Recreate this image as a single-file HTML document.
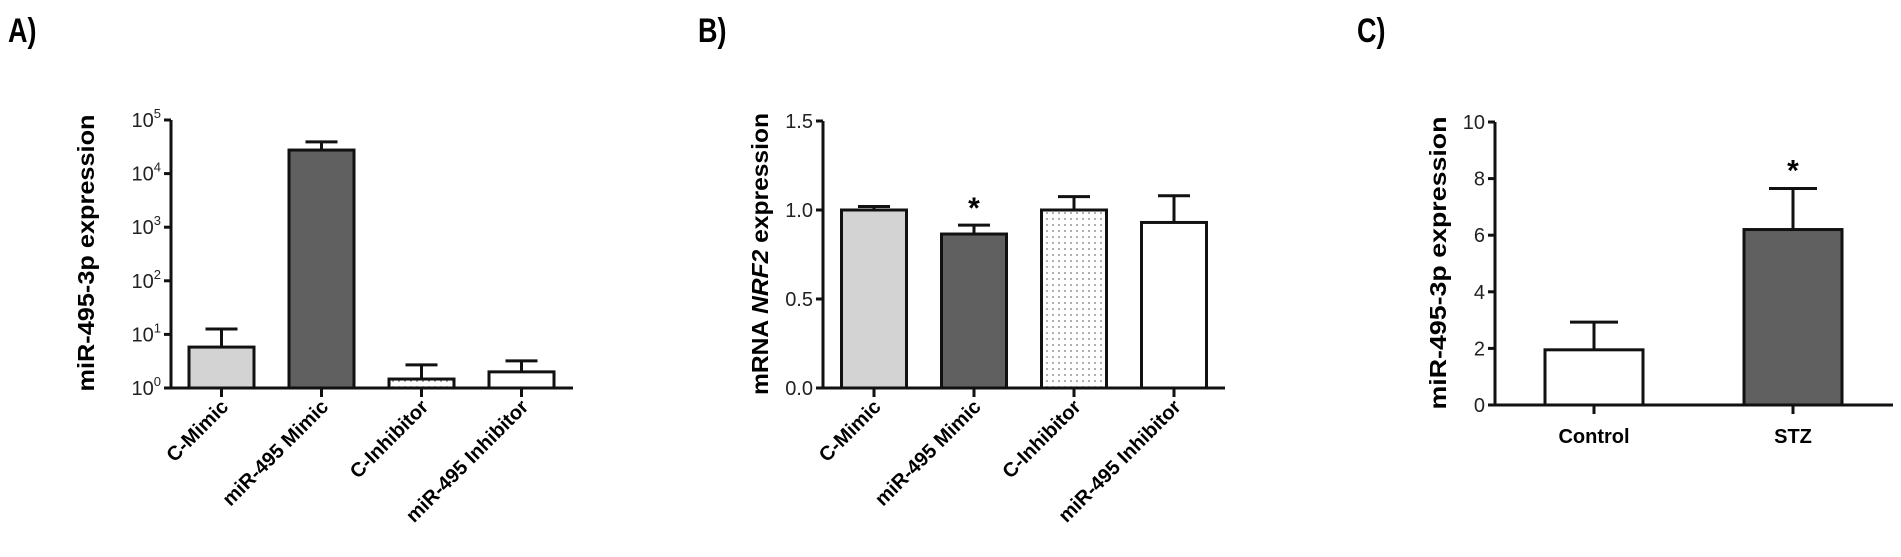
<!DOCTYPE html>
<html><head><meta charset="utf-8"><style>
html,body{margin:0;padding:0;background:#fff;}
svg{display:block;font-family:"Liberation Sans",sans-serif;}
</style></head><body>
<svg id="fig" width="1901" height="557" viewBox="0 0 1901 557" xmlns="http://www.w3.org/2000/svg">
<defs>
<pattern id="dots" width="6" height="6" patternUnits="userSpaceOnUse"><rect width="6" height="6" fill="#fff"/><circle cx="3" cy="3" r="0.9" fill="#777"/></pattern>
</defs>
<text x="8" y="42" font-size="30" font-weight="bold" transform="translate(8 42) scale(0.9 1.15) translate(-8 -42)">A)</text>
<text x="698" y="42" font-size="30" font-weight="bold" transform="translate(698 42) scale(0.9 1.15) translate(-698 -42)">B)</text>
<text x="1357" y="42" font-size="30" font-weight="bold" transform="translate(1357 42) scale(0.9 1.15) translate(-1357 -42)">C)</text>
<g id="pa"></g>
<g id="pb"></g>
<g id="pc"></g>
</svg>
<script>
// Panel A data (log scale)
const aCategories = ["C-Mimic","miR-495 Mimic","C-Inhibitor","miR-495 Inhibitor"];
const aValues = [5.8, 27500, 1.47, 2.0];
const aErrors = [12.6, 39000, 2.7, 3.2];
const aTicks = [0,1,2,3,4,5];
// Panel B data
const bCategories = ["C-Mimic","miR-495 Mimic","C-Inhibitor","miR-495 Inhibitor"];
const bValues = [1.0, 0.865, 1.0, 0.93];
const bErrors = [1.02, 0.915, 1.075, 1.08];
const bTicks = ["0.0","0.5","1.0","1.5"];
const bStars = [false, true, false, false];
// Panel C data
const cCategories = ["Control","STZ"];
const cValues = [1.95, 6.2];
const cErrors = [2.93, 7.65];
const cTicks = [0,2,4,6,8,10];
const cStars = [false, true];

const NS = "http://www.w3.org/2000/svg";
function mk(parent, tag, attrs, text){
  const e = document.createElementNS(NS, tag);
  for (const k in attrs) e.setAttribute(k, attrs[k]);
  if (text !== undefined) e.textContent = text;
  parent.appendChild(e);
  return e;
}
const SW = 3;
const LF = 20;
const TF = 20;

// ---------- Panel A ----------
(function(){
  const g = document.getElementById('pa');
  const x0 = 171, yBase = 388, yTop = 120, xEnd = 573;
  const y = v => yBase - (Math.log10(v) / 5) * (yBase - yTop);
  const xc = i => 221.5 + i * 100;
  const fills = ["#d3d3d3", "#606060", "url(#dots)", "#ffffff"];
  aCategories.forEach((c, i) => {
    const cx = xc(i);
    const eb = mk(g, 'path', {d:`M${cx},${y(aValues[i])}V${y(aErrors[i])}M${cx-16},${y(aErrors[i])}H${cx+16}`, stroke:'#111', 'stroke-width':SW, fill:'none'});
    
    
    const r = mk(g, 'rect', {x:cx-32.5, y:y(aValues[i]), width:65, height:yBase - y(aValues[i]), fill:fills[i], stroke:'#111', 'stroke-width':SW});
    
    
    const t = mk(g, 'line', {x1:cx, x2:cx, y1:yBase, y2:yBase+9, stroke:'#111', 'stroke-width':SW});
    
    
    const l = mk(g, 'text', {x:cx+8, y:yBase+20, 'font-size':LF, 'font-weight':'bold', 'text-anchor':'end', transform:`rotate(-45 ${cx+8} ${yBase+20})`}, c);
    
    
  });
  const ax = mk(g, 'path', {d:`M${x0},${yTop}V${yBase}H${xEnd}`, stroke:'#111', 'stroke-width':SW, fill:'none'});
  
  
  aTicks.forEach(p => {
    const yy = y(Math.pow(10, p));
    mk(g, 'line', {x1:x0-7, x2:x0, y1:yy, y2:yy, stroke:'#111', 'stroke-width':SW});
    const t = mk(g, 'text', {x:x0-10, y:yy+7, 'font-size':TF, 'text-anchor':'end', fill:'#222'});
    
    
    mk(t, 'tspan', {}, '10');
    mk(t, 'tspan', {'font-size':13, dy:-9}, String(p));
  });
  const tt = mk(g, 'text', {x:0, y:0, 'font-size':23, 'font-weight':'bold', 'text-anchor':'middle', transform:'translate(94 253) rotate(-90)', textLength:277, lengthAdjust:'spacingAndGlyphs'}, 'miR-495-3p expression');
  
  
})();

// ---------- Panel B ----------
(function(){
  const g = document.getElementById('pb');
  const x0 = 823, yBase = 388, yTop = 121, xEnd = 1225;
  const y = v => yBase - (v / 1.5) * (yBase - yTop);
  const xc = i => 874 + i * 100;
  const fills = ["#d3d3d3", "#606060", "url(#dots)", "#ffffff"];
  bCategories.forEach((c, i) => {
    const cx = xc(i);
    const eb = mk(g, 'path', {d:`M${cx},${y(bValues[i])}V${y(bErrors[i])}M${cx-16},${y(bErrors[i])}H${cx+16}`, stroke:'#111', 'stroke-width':SW, fill:'none'});
    
    
    const r = mk(g, 'rect', {x:cx-32.5, y:y(bValues[i]), width:65, height:yBase - y(bValues[i]), fill:fills[i], stroke:'#111', 'stroke-width':SW});
    
    
    if (bStars[i]) {
      const s = mk(g, 'text', {x:cx, y:y(bErrors[i]) - 7, 'font-size':30, 'font-weight':'bold', 'text-anchor':'middle'}, '*');
      
      
    }
    mk(g, 'line', {x1:cx, x2:cx, y1:yBase, y2:yBase+9, stroke:'#111', 'stroke-width':SW});
    const l = mk(g, 'text', {x:cx+8, y:yBase+20, 'font-size':LF, 'font-weight':'bold', 'text-anchor':'end', transform:`rotate(-45 ${cx+8} ${yBase+20})`}, c);
    
    
  });
  const ax = mk(g, 'path', {d:`M${x0},${yTop}V${yBase}H${xEnd}`, stroke:'#111', 'stroke-width':SW, fill:'none'});
  
  
  bTicks.forEach(tk => {
    const yy = y(parseFloat(tk));
    mk(g, 'line', {x1:x0-7, x2:x0, y1:yy, y2:yy, stroke:'#111', 'stroke-width':SW});
    const t = mk(g, 'text', {x:x0-10, y:yy+7, 'font-size':TF, 'text-anchor':'end', fill:'#222'}, tk);
    
    
  });
  const tt = mk(g, 'text', {x:0, y:0, 'font-size':23, 'font-weight':'bold', 'text-anchor':'middle', transform:'translate(768 254) rotate(-90)', textLength:282, lengthAdjust:'spacingAndGlyphs'});
  
  
  mk(tt, 'tspan', {}, 'mRNA ');
  mk(tt, 'tspan', {'font-style':'italic'}, 'NRF2');
  mk(tt, 'tspan', {}, ' expression');
})();

// ---------- Panel C ----------
(function(){
  const g = document.getElementById('pc');
  const x0 = 1495, yBase = 405, yTop = 122, xEnd = 1893;
  const y = v => yBase - (v / 10) * (yBase - yTop);
  const xc = i => 1594 + i * 199;
  const fills = ["#ffffff", "#606060"];
  cCategories.forEach((c, i) => {
    const cx = xc(i);
    const eb = mk(g, 'path', {d:`M${cx},${y(cValues[i])}V${y(cErrors[i])}M${cx-24},${y(cErrors[i])}H${cx+24}`, stroke:'#111', 'stroke-width':SW, fill:'none'});
    
    
    const r = mk(g, 'rect', {x:cx-49, y:y(cValues[i]), width:98, height:yBase - y(cValues[i]), fill:fills[i], stroke:'#111', 'stroke-width':SW});
    
    
    if (cStars[i]) {
      const s = mk(g, 'text', {x:cx, y:y(cErrors[i]) - 8, 'font-size':30, 'font-weight':'bold', 'text-anchor':'middle'}, '*');
      
      
    }
    mk(g, 'line', {x1:cx, x2:cx, y1:yBase, y2:yBase+9, stroke:'#111', 'stroke-width':SW});
    const l = mk(g, 'text', {x:cx, y:yBase+38, 'font-size':LF, 'font-weight':'bold', 'text-anchor':'middle'}, c);
    
    
  });
  const ax = mk(g, 'path', {d:`M${x0},${yTop}V${yBase}H${xEnd}`, stroke:'#111', 'stroke-width':SW, fill:'none'});
  
  
  cTicks.forEach(tk => {
    const yy = y(tk);
    mk(g, 'line', {x1:x0-7, x2:x0, y1:yy, y2:yy, stroke:'#111', 'stroke-width':SW});
    const t = mk(g, 'text', {x:x0-10, y:yy+7, 'font-size':TF, 'text-anchor':'end', fill:'#222'}, String(tk));
    
    
  });
  const tt = mk(g, 'text', {x:0, y:0, 'font-size':23, 'font-weight':'bold', 'text-anchor':'middle', transform:'translate(1446 263) rotate(-90)', textLength:293, lengthAdjust:'spacingAndGlyphs'}, 'miR-495-3p expression');
  
  
})();
</script>
</body></html>
